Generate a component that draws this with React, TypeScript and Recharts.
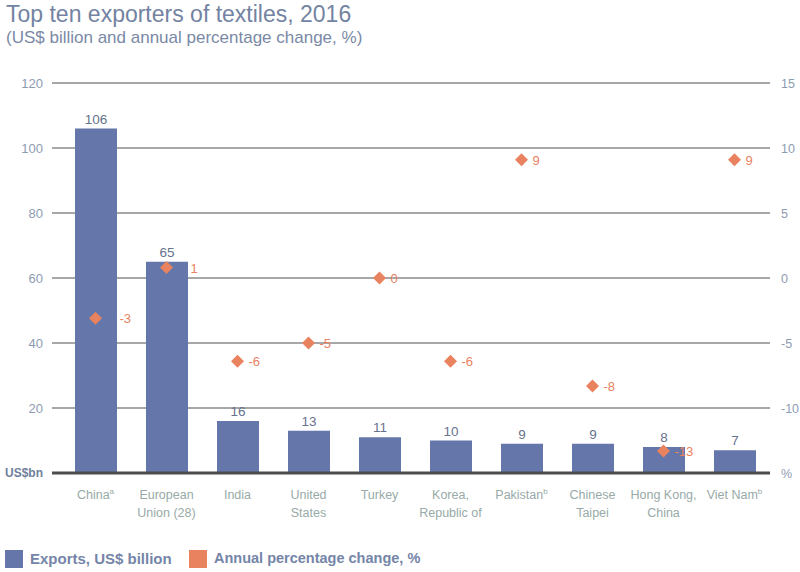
import React from "react";
import {
  ComposedChart,
  Bar,
  Scatter,
  XAxis,
  YAxis,
  CartesianGrid,
  ReferenceLine,
  LabelList,
} from "recharts";

const COUNTRIES = [
  "China",
  "European\nUnion (28)",
  "India",
  "United\nStates",
  "Turkey",
  "Korea,\nRepublic of",
  "Pakistan",
  "Chinese\nTaipei",
  "Hong Kong,\nChina",
  "Viet Nam",
];
const NOTES = ["a", "", "", "", "", "", "b", "", "", "b"];
const EXPORTS = [106, 65, 16, 13, 11, 10, 9, 9, 8, 7];
const PCT_CHANGE = [-3.1, 0.8, -6.4, -5, 0, -6.4, 9.1, -8.3, -13.3, 9.1];
const PCT_LABELS = ["-3", "1", "-6", "-5", "0", "-6", "9", "-8", "-13", "9"];
const LEFT_TICKS = [0, 20, 40, 60, 80, 100, 120];
const RIGHT_TICKS = [-15, -10, -5, 0, 5, 10, 15];

const BAR_COLOR = "#6476aa";
const DOT_COLOR = "#e8825f";
const FONT = "'Liberation Sans', Arial, sans-serif";

const data = COUNTRIES.map((name, i) => ({
  name,
  note: NOTES[i],
  exports: EXPORTS[i],
  pct: PCT_CHANGE[i],
  pctLabel: PCT_LABELS[i],
}));

function LeftTick({ x, y, payload }: any) {
  if (payload.value === 0) {
    return (
      <text x={x - 1} y={y + 4} textAnchor="end" fontSize={12} fontWeight={700} fill="#6f7f9c" fontFamily={FONT}>
        US$bn
      </text>
    );
  }
  return (
    <text x={x - 1} y={y + 5} textAnchor="end" fontSize={13} fill="#8e9cb2" fontFamily={FONT}>
      {payload.value}
    </text>
  );
}

function RightTick({ x, y, payload }: any) {
  const label = payload.value === -15 ? "%" : String(payload.value);
  return (
    <text x={x + 3} y={y + 5} textAnchor="start" fontSize={12.5} fill="#8e9cb2" fontFamily={FONT}>
      {label}
    </text>
  );
}

function CountryTick({ x, y, payload, index }: any) {
  const lines = String(payload.value).split("\n");
  const note = NOTES[index] ?? "";
  return (
    <text x={x} y={y} textAnchor="middle" fontSize={12.5} fill="#97aaa7" fontFamily={FONT}>
      {lines.map((ln, i) => (
        <tspan key={i} x={x} dy={18}>
          {ln}
          {i === lines.length - 1 && note ? (
            <tspan fontSize={8} dy={-5}>
              {note}
            </tspan>
          ) : null}
        </tspan>
      ))}
    </text>
  );
}

function Diamond(props: any) {
  const { cx, cy, payload } = props;
  const r = 6.5;
  // labels sit further out when the marker is inside a tall bar
  const dx = payload.exports > 50 ? 24 : 11;
  return (
    <g>
      <path d={`M${cx},${cy - r} L${cx + r},${cy} L${cx},${cy + r} L${cx - r},${cy} Z`} fill={DOT_COLOR} />
      <text x={cx + dx} y={cy + 5} fontSize={13} fill={DOT_COLOR} fontFamily={FONT}>
        {payload.pctLabel}
      </text>
    </g>
  );
}

export default function App() {
  return (
    <div style={{ position: "absolute", left: 0, top: 0, width: 800, height: 572, background: "#fff", fontFamily: FONT }}>
      <div style={{ position: "absolute", left: 6, top: 1, fontSize: 23, color: "#7383a2", whiteSpace: "nowrap" }}>
        Top ten exporters of textiles, 2016
      </div>
      <div style={{ position: "absolute", left: 6, top: 28, fontSize: 17, color: "#7a89a6", whiteSpace: "nowrap" }}>
        (US$ billion and annual percentage change, %)
      </div>

      <ComposedChart
        width={800}
        height={572}
        data={data}
        margin={{ top: 83, right: 0, bottom: 0, left: 0 }}
      >
        <CartesianGrid horizontal vertical={false} stroke="#8a8a8a" strokeWidth={1.5} yAxisId="left" />
        <XAxis
          dataKey="name"
          interval={0}
          axisLine={false}
          tickLine={false}
          tick={<CountryTick />}
          height={99}
          padding={{ left: 8, right: 0 }}
        />
        <YAxis
          yAxisId="left"
          orientation="left"
          domain={[0, 120]}
          ticks={LEFT_TICKS}
          axisLine={false}
          tickLine={false}
          width={52}
          tick={<LeftTick />}
          interval={0}
        />
        <YAxis
          yAxisId="right"
          orientation="right"
          domain={[-15, 15]}
          ticks={RIGHT_TICKS}
          axisLine={false}
          tickLine={false}
          width={30}
          tick={<RightTick />}
          interval={0}
        />
        <Bar yAxisId="left" dataKey="exports" fill={BAR_COLOR} barSize={42} isAnimationActive={false}>
          <LabelList dataKey="exports" position="top" offset={5} fill="#66728c" fontSize={13.5} fontFamily={FONT} />
        </Bar>
        <ReferenceLine yAxisId="left" y={0} stroke="#4d4d4d" strokeWidth={3} />
        <Scatter yAxisId="right" dataKey="pct" fill={DOT_COLOR} shape={<Diamond />} isAnimationActive={false} />
      </ComposedChart>

      <div style={{ position: "absolute", left: 5, top: 550, width: 18, height: 18, background: BAR_COLOR }} />
      <div style={{ position: "absolute", left: 30, top: 550, fontSize: 15, fontWeight: 700, color: "#7585a8", whiteSpace: "nowrap" }}>
        Exports, US$ billion
      </div>
      <div style={{ position: "absolute", left: 189, top: 550, width: 18, height: 18, background: DOT_COLOR }} />
      <div style={{ position: "absolute", left: 214, top: 550, fontSize: 14.5, fontWeight: 700, color: "#7585a8", whiteSpace: "nowrap" }}>
        Annual percentage change, %
      </div>
    </div>
  );
}
